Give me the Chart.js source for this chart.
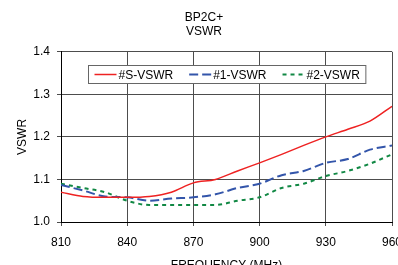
<!DOCTYPE html>
<html>
<head>
<meta charset="utf-8">
<script src="https://cdn.jsdelivr.net/npm/chart.js@4.4.1/dist/chart.umd.min.js"></script>
<style>
  html, body { margin: 0; padding: 0; background: #fff; overflow: hidden; }
  #wrap { width: 402px; height: 275px; }
</style>
</head>
<body>
<div id="wrap"><canvas id="vswrChart" width="402" height="275"></canvas></div>
<script>
// Frequências (MHz) e valores
const freqs = [810, 820, 830, 840, 850, 860, 870, 880, 890, 900, 910, 920, 930, 940, 950, 960];
const vswrS = [1.07, 1.06, 1.058, 1.058, 1.06, 1.07, 1.092, 1.10, 1.12, 1.139, 1.159, 1.18, 1.20, 1.218, 1.237, 1.272];
const vswr1 = [1.087, 1.074, 1.06, 1.058, 1.05, 1.055, 1.058, 1.065, 1.08, 1.09, 1.11, 1.12, 1.139, 1.148, 1.17, 1.18];
const vswr2 = [1.09, 1.08, 1.07, 1.05, 1.04, 1.04, 1.04, 1.04, 1.05, 1.058, 1.08, 1.09, 1.108, 1.12, 1.137, 1.159];
const seriesNames = ['#S-VSWR', '#1-VSWR', '#2-VSWR'];

const FONT = 'Liberation Sans, Arial, sans-serif';

function toPoints(ys) {
    return freqs.map((f, i) => ({ x: f, y: ys[i] }));
}

// Legenda desenhada dentro da área do gráfico, com moldura
const boxLegend = {
    id: 'boxLegend',
    afterDraw(chart) {
        const ctx = chart.ctx;
        const area = chart.chartArea;
        const sample = 22, gap = 2, itemGap = 16, pad = 6;
        ctx.save();
        ctx.font = '12px ' + FONT;
        const items = chart.data.datasets.map(ds => ({ ds, w: ctx.measureText(ds.label).width }));
        let total = pad * 2 + itemGap * (items.length - 1);
        items.forEach(it => { total += sample + gap + it.w; });
        const h = 18;
        const x0 = Math.round((area.left + area.right) / 2 - total / 2) + 0.5;
        const y0 = 65.5;
        ctx.fillStyle = '#fff';
        ctx.fillRect(x0, y0, total, h);
        ctx.strokeStyle = '#666';
        ctx.lineWidth = 1;
        ctx.strokeRect(x0, y0, total, h);
        let x = x0 + pad;
        const yc = y0 + h / 2;
        items.forEach(it => {
            ctx.beginPath();
            ctx.setLineDash(it.ds.borderDash || []);
            ctx.strokeStyle = it.ds.borderColor;
            ctx.lineWidth = it.ds.borderWidth;
            ctx.moveTo(x, yc);
            ctx.lineTo(x + sample, yc);
            ctx.stroke();
            ctx.setLineDash([]);
            x += sample + gap;
            ctx.fillStyle = '#000';
            ctx.textBaseline = 'middle';
            ctx.textAlign = 'left';
            ctx.fillText(it.ds.label, x, yc + 1);
            x += it.w + itemGap;
        });
        ctx.restore();
    }
};

new Chart(document.getElementById('vswrChart').getContext('2d'), {
    type: 'line',
    data: {
        datasets: [
            {
                label: seriesNames[0],
                data: toPoints(vswrS),
                borderColor: '#ee2222',
                borderWidth: 1.5,
                borderDash: [],
                pointRadius: 0,
                tension: 0.4,
                cubicInterpolationMode: 'monotone'
            },
            {
                label: seriesNames[1],
                data: toPoints(vswr1),
                borderColor: '#3355aa',
                borderWidth: 2,
                borderDash: [9, 4],
                pointRadius: 0,
                tension: 0.4,
                cubicInterpolationMode: 'monotone'
            },
            {
                label: seriesNames[2],
                data: toPoints(vswr2),
                borderColor: '#118844',
                borderWidth: 2,
                borderDash: [4, 4],
                pointRadius: 0,
                tension: 0.4,
                cubicInterpolationMode: 'monotone'
            }
        ]
    },
    options: {
        responsive: false,
        animation: false,
        layout: { padding: { left: 6, right: 0, top: 0, bottom: 0 } },
        plugins: {
            legend: { display: false },
            tooltip: { enabled: false },
            title: {
                display: true,
                text: ['BP2C+', 'VSWR'],
                color: '#000',
                font: { family: FONT, size: 12, weight: 'normal', lineHeight: 1.2 },
                padding: { top: 10, bottom: 13 }
            }
        },
        scales: {
            x: {
                type: 'linear',
                min: 810,
                max: 960,
                afterBuildTicks(scale) {
                    scale.ticks = [810, 840, 870, 900, 930, 960].map(v => ({ value: v }));
                },
                afterFit(scale) {
                    scale.height = 53;
                    scale.paddingRight = 10;
                },
                ticks: { color: '#000', font: { family: FONT, size: 12 }, padding: 9, maxRotation: 0 },
                grid: { color: '#4d4d4d', tickLength: 4, lineWidth: 1 },
                border: { color: '#000' },
                title: {
                    display: true,
                    text: 'FREQUENCY (MHz)',
                    color: '#000',
                    font: { family: FONT, size: 12 },
                    padding: { top: 10, bottom: 2 }
                }
            },
            y: {
                min: 1.0,
                max: 1.4,
                afterFit(scale) { scale.width = 55; },
                ticks: {
                    stepSize: 0.1,
                    color: '#000',
                    font: { family: FONT, size: 12 },
                    padding: 7,
                    callback: v => v.toFixed(1)
                },
                grid: { color: '#4d4d4d', tickLength: 4, lineWidth: 1 },
                border: { color: '#000' },
                title: {
                    display: true,
                    text: 'VSWR',
                    color: '#000',
                    font: { family: FONT, size: 12 },
                    padding: { top: 9, bottom: 0 }
                }
            }
        }
    },
    plugins: [boxLegend]
});
</script>
</body>
</html>
